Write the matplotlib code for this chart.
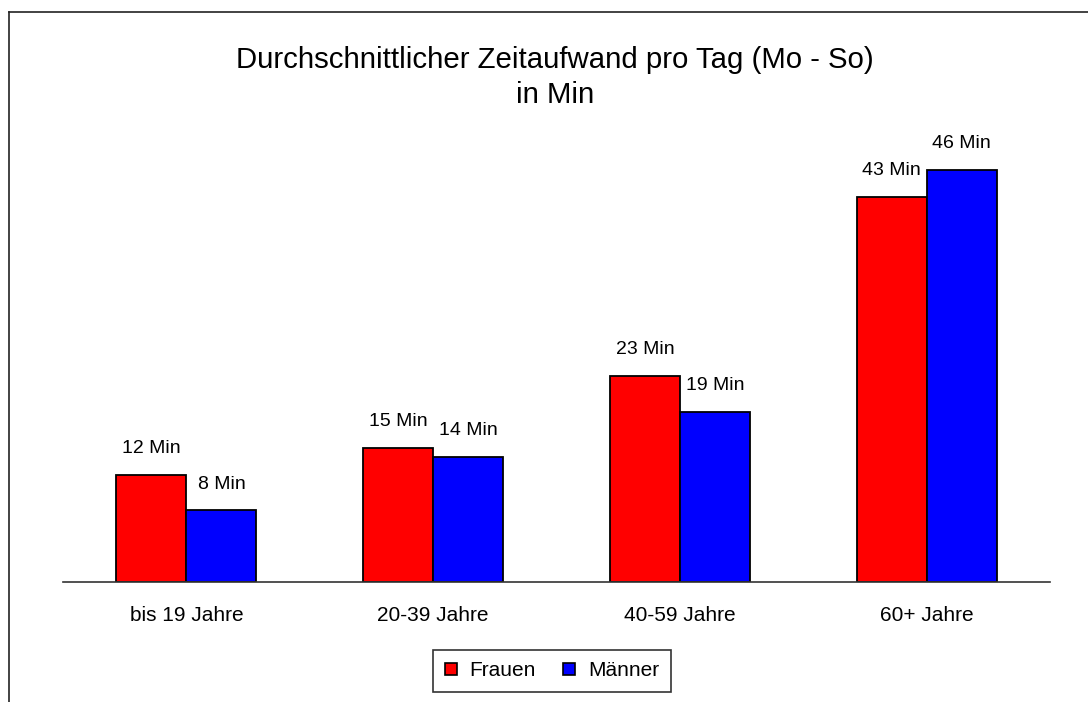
import matplotlib.pyplot as plt
from matplotlib.lines import Line2D
import numpy as np

plt.rcParams['font.family'] = ['Liberation Sans', 'DejaVu Sans']

categories = ['bis 19 Jahre', '20-39 Jahre', '40-59 Jahre', '60+ Jahre']
frauen = [12, 15, 23, 43]
maenner = [8, 14, 19, 46]
series_names = ['Frauen', 'Männer']
title = 'Durchschnittlicher Zeitaufwand pro Tag (Mo - So)\nin Min'

W, H = 1088, 702
fig = plt.figure(figsize=(W / 100, H / 100), dpi=100)

# plot area in pixels: left 63, right 1050, baseline 582, top 130
ax = fig.add_axes([63 / W, (H - 582) / H, (1050 - 63) / W, (582 - 130) / H])

x = np.arange(len(categories))
width = 0.284
b1 = ax.bar(x - width / 2, frauen, width, color='#ff0000', edgecolor='black', linewidth=1.3, label=series_names[0])
b2 = ax.bar(x + width / 2, maenner, width, color='#0000ff', edgecolor='black', linewidth=1.3, label=series_names[1])

for bars, vals in ((b1, frauen), (b2, maenner)):
    for bar, v in zip(bars, vals):
        ax.annotate(f'{v} Min', (bar.get_x() + bar.get_width() / 2, v),
                    xytext=(0, 19), textcoords='offset points',
                    ha='center', va='center', fontsize=14)

ax.set_xlim(-0.5, 3.5)
ax.set_ylim(0, 452 / 8.95)
ax.set_xticks(x)
ax.set_xticklabels(categories, fontsize=15)
ax.tick_params(axis='x', length=0, pad=17)
ax.set_yticks([])
for s in ['top', 'right', 'left']:
    ax.spines[s].set_visible(False)
ax.spines['bottom'].set_color('#333333')
ax.spines['bottom'].set_linewidth(1.2)

fig.text(555 / W, 1 - 77.5 / H, title, ha='center', va='center', fontsize=21.2, linespacing=1.32)

handles = [Line2D([], [], marker='s', linestyle='none', markersize=8, markerfacecolor=c,
                  markeredgecolor='black', markeredgewidth=1.2)
           for c in ('#ff0000', '#0000ff')]
leg = fig.legend(handles, series_names, loc='center', bbox_to_anchor=(552 / W, 1 - 671 / H),
                 ncol=2, fontsize=15, frameon=True, fancybox=False, handlelength=0.6,
                 handletextpad=0.6, columnspacing=1.3, borderpad=0.55)
leg.get_frame().set_edgecolor('black')
leg.get_frame().set_linewidth(1.2)

# outer frame lines (top and left)
fig.add_artist(Line2D([9 / W, 9 / W], [0, 1 - 12 / H], color='#222222', linewidth=1.2))
fig.add_artist(Line2D([9 / W, 1], [1 - 12 / H, 1 - 12 / H], color='#222222', linewidth=1.2))

fig.savefig('out.png', dpi=100, facecolor='white')
